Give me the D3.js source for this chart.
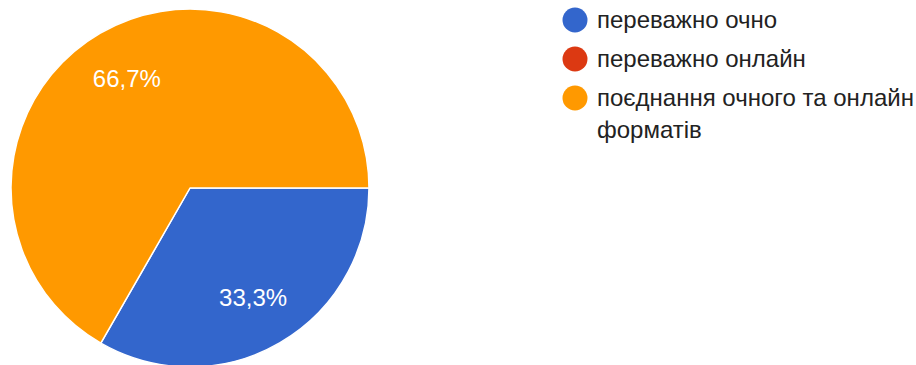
<!DOCTYPE html>
<html>
<head>
<meta charset="utf-8">
<script src="https://cdn.jsdelivr.net/npm/d3@7"></script>
<style>
  html, body { margin: 0; padding: 0; background: #fff; }
  svg { display: block; }
</style>
</head>
<body>
<svg id="chart" width="916" height="365"></svg>
<script>
// Response categories, their shares (%) and slice colours
const categories = ["переважно очно", "переважно онлайн", "поєднання очного та онлайн форматів"];
const shares = [33.3, 0, 66.7];
const colors = ["#3366cc", "#dc3912", "#ff9900"];
// Legend text, wrapped into lines
const legendLines = [["переважно очно"], ["переважно онлайн"], ["поєднання очного та онлайн", "форматів"]];

const svg = d3.select("#chart");
const cx = 190, cy = 188, radius = 179;
const font = "'Liberation Sans', Arial, sans-serif";

const data = categories.map((c, i) => ({ name: c, value: shares[i], color: colors[i] }));

const pie = d3.pie()
  .sort(null)
  .value(d => d.value)
  .startAngle(Math.PI / 2)
  .endAngle(Math.PI / 2 + 2 * Math.PI);

const arcs = pie(data);
const arc = d3.arc().innerRadius(0).outerRadius(radius);
const labelArc = d3.arc().innerRadius(126).outerRadius(126);

const g = svg.append("g").attr("transform", `translate(${cx},${cy})`);

g.selectAll("path.slice")
  .data(arcs.filter(a => a.data.value > 0))
  .join("path")
  .attr("class", "slice")
  .attr("d", arc)
  .attr("fill", d => d.data.color)
  .attr("stroke", "#fff")
  .attr("stroke-width", 1.5)
  .attr("stroke-linejoin", "round");

const fmt = v => v.toFixed(1).replace(".", ",") + "%";

g.selectAll("text.pct")
  .data(arcs.filter(a => a.data.value > 0))
  .join("text")
  .attr("class", "pct")
  .attr("x", d => labelArc.centroid(d)[0])
  .attr("y", d => labelArc.centroid(d)[1] + 8.5)
  .attr("text-anchor", "middle")
  .attr("font-family", font)
  .attr("font-size", 24)
  .attr("fill", "#fff")
  .text(d => fmt(d.data.value));

// Legend
const legend = svg.append("g").attr("transform", "translate(575,0)");
const rowY = [20, 59, 98];
const item = legend.selectAll("g.item")
  .data(data)
  .join("g")
  .attr("class", "item")
  .attr("transform", (d, i) => `translate(0,${rowY[i]})`);

item.append("circle")
  .attr("r", 12.5)
  .attr("fill", d => d.color);

item.append("text")
  .attr("font-family", font)
  .attr("font-size", 24)
  .attr("fill", "#222")
  .each(function (d, i) {
    d3.select(this).selectAll("tspan")
      .data(legendLines[i])
      .join("tspan")
      .attr("x", 22)
      .attr("y", (t, j) => 8 + j * 32)
      .text(t => t);
  });
</script>
</body>
</html>
